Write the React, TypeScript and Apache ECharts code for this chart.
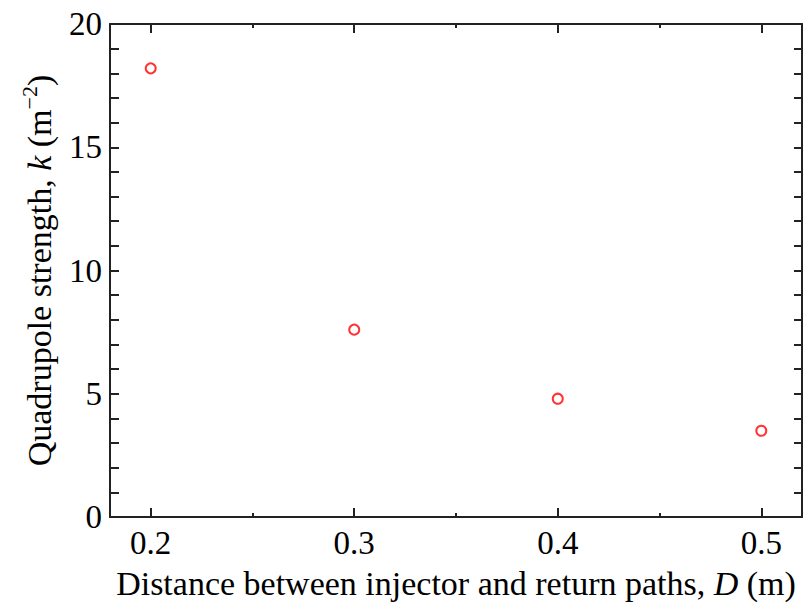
import React, { useEffect, useRef } from "react";
import * as echarts from "echarts";

const distances = [0.2, 0.3, 0.4, 0.5];
const strengths = [18.2, 7.6, 4.8, 3.5];
const xMajorTicks = [0.2, 0.3, 0.4, 0.5];
const xMinorTicks = [0.25, 0.35, 0.45];
const xTitle = "Distance between injector and return paths, ";
const yTitle = "Quadrupole strength, ";

const FONT = "Liberation Serif";
const AXIS_COLOR = "#222";
const TITLE_SIZE = 34;
const TICK_SIZE = 33;

export default function App() {
  const ref = useRef<HTMLDivElement>(null);
  useEffect(() => {
    if (!ref.current) return;
    const chart = echarts.init(ref.current, null, { renderer: "svg" });
    const lineStyle = { color: AXIS_COLOR, width: 2 };
    const baseX = {
      type: "value" as const,
      min: 0.18,
      max: 0.52,
      splitLine: { show: false },
    };
    const baseY = {
      type: "value" as const,
      min: 0,
      max: 20,
      interval: 5,
      splitLine: { show: false },
      minorSplitLine: { show: false },
    };
    chart.setOption({
      animation: false,
      backgroundColor: "#fff",
      grid: { left: 110, top: 24, right: 3, bottom: 87 },
      xAxis: [
        {
          ...baseX,
          position: "bottom",
          axisLine: { show: true, onZero: false, lineStyle },
          axisTick: { show: true, inside: true, length: 9, customValues: xMajorTicks, lineStyle },
          axisLabel: {
            show: true,
            customValues: xMajorTicks,
            margin: 9,
            color: "#000",
            fontFamily: FONT,
            fontSize: TICK_SIZE,
            formatter: (v: number) => v.toFixed(1),
          },
          name: `{n|${xTitle}}{i|D}{n| (m)}`,
          nameLocation: "middle",
          nameGap: 49,
          nameTextStyle: {
            color: "#000",
            fontFamily: FONT,
            fontSize: TITLE_SIZE,
            rich: {
              n: { fontFamily: FONT, fontSize: TITLE_SIZE, color: "#000" },
              i: { fontFamily: FONT, fontSize: TITLE_SIZE, color: "#000", fontStyle: "italic" },
            },
          },
        },
        {
          ...baseX,
          position: "bottom",
          axisLine: { show: false, onZero: false },
          axisTick: { show: true, inside: true, length: 4, customValues: xMinorTicks, lineStyle },
          axisLabel: { show: false },
        },
        {
          ...baseX,
          position: "top",
          axisLine: { show: true, onZero: false, lineStyle },
          axisTick: { show: true, inside: true, length: 9, customValues: xMajorTicks, lineStyle },
          axisLabel: { show: false },
        },
        {
          ...baseX,
          position: "top",
          axisLine: { show: false, onZero: false },
          axisTick: { show: true, inside: true, length: 4, customValues: xMinorTicks, lineStyle },
          axisLabel: { show: false },
        },
      ],
      yAxis: [
        {
          ...baseY,
          position: "left",
          axisLine: { show: true, onZero: false, lineStyle },
          axisTick: { show: true, inside: true, length: 9, lineStyle },
          minorTick: { show: true, splitNumber: 5, length: 9, lineStyle },
          axisLabel: {
            show: true,
            margin: 8,
            color: "#000",
            fontFamily: FONT,
            fontSize: TICK_SIZE,
          },
          name: `{n|${yTitle}}{i|k}{n| (m}{s|−2}{n|)}`,
          nameLocation: "middle",
          nameGap: 54,
          nameTextStyle: {
            color: "#000",
            fontFamily: FONT,
            fontSize: TITLE_SIZE,
            rich: {
              n: { fontFamily: FONT, fontSize: TITLE_SIZE, color: "#000", lineHeight: 38, verticalAlign: "bottom" },
              i: { fontFamily: FONT, fontSize: TITLE_SIZE, color: "#000", fontStyle: "italic", lineHeight: 38, verticalAlign: "bottom" },
              s: { fontFamily: FONT, fontSize: 22, color: "#000", verticalAlign: "top" },
            },
          },
        },
        {
          ...baseY,
          position: "right",
          axisLine: { show: true, onZero: false, lineStyle },
          axisTick: { show: true, inside: true, length: 8, lineStyle },
          minorTick: { show: true, splitNumber: 5, length: 8, lineStyle },
          axisLabel: { show: false },
        },
      ],
      series: [
        {
          type: "scatter",
          xAxisIndex: 0,
          yAxisIndex: 0,
          data: distances.map((d, i) => [d, strengths[i]]),
          symbol: "emptyCircle",
          symbolSize: 10,
          itemStyle: { color: "#ff0000", borderColor: "#ff0000", borderWidth: 2.5 },
        },
      ],
    });
    return () => chart.dispose();
  }, []);
  return (
    <div
      ref={ref}
      style={{ position: "fixed", left: 0, top: 0, width: 805, height: 605, background: "#fff" }}
    />
  );
}
